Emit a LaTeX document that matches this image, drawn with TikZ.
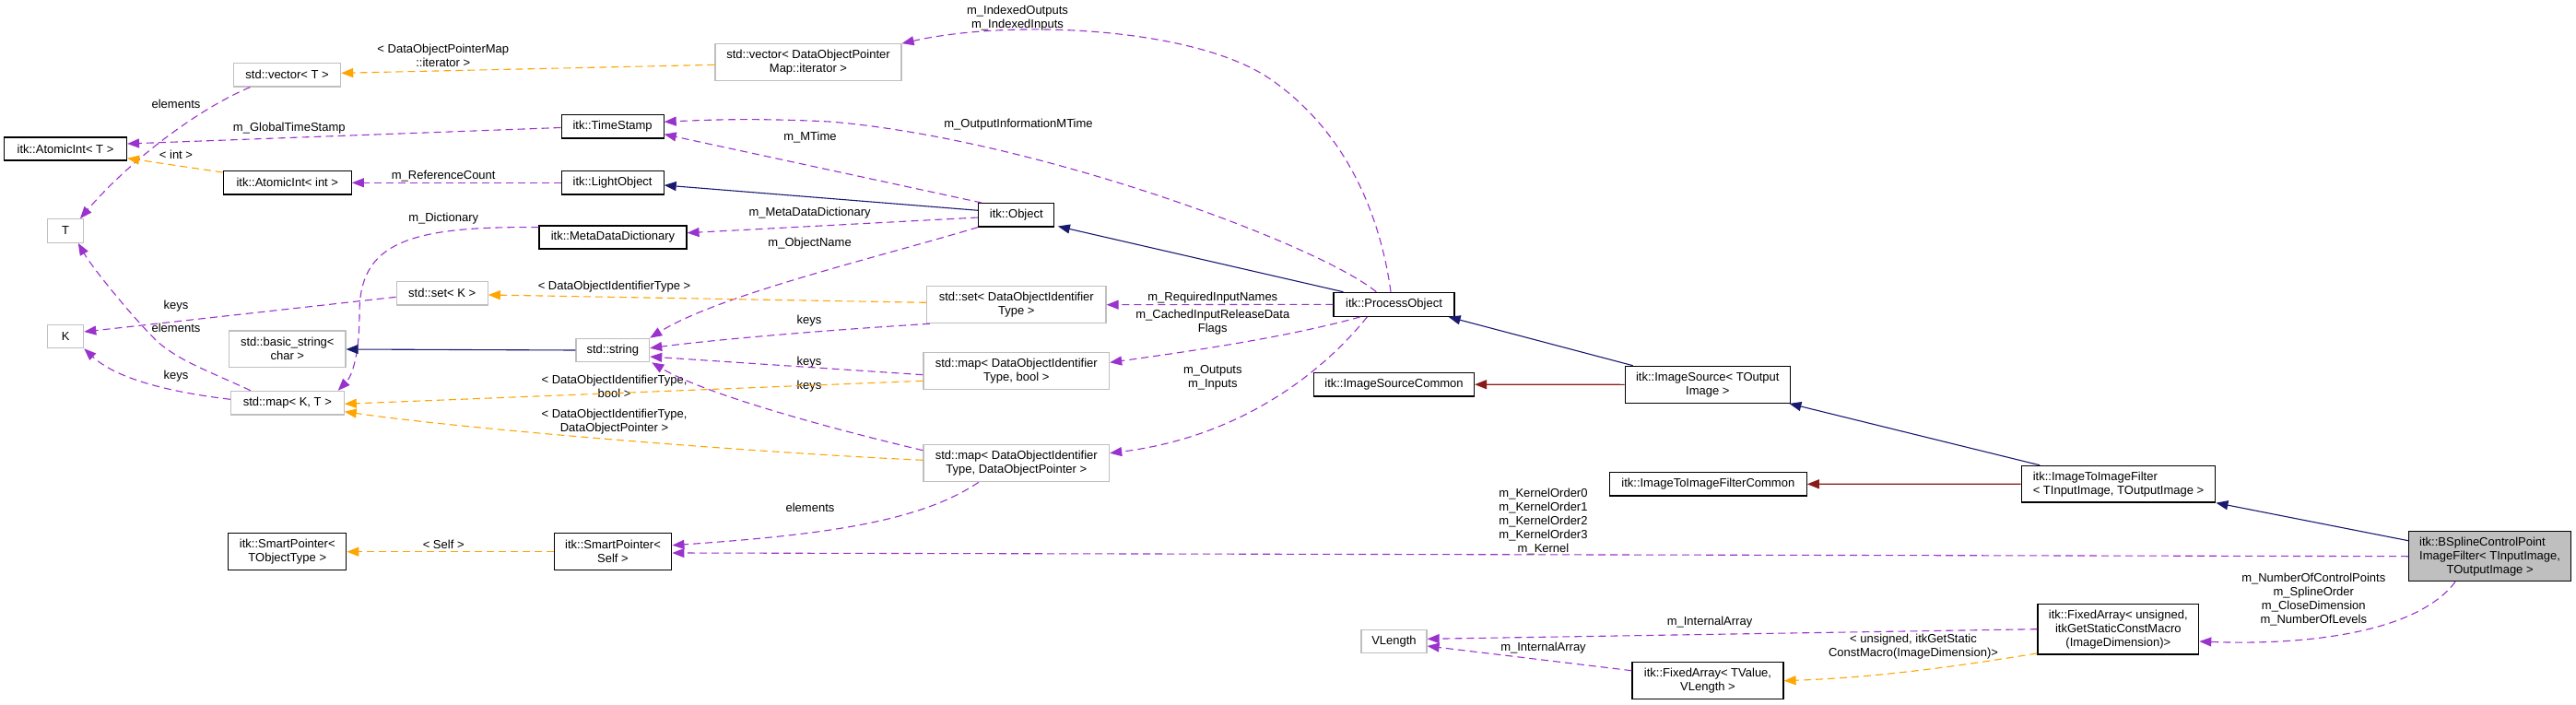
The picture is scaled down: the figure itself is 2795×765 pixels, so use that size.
\documentclass[tikz,border=0pt]{standalone}
\usepackage{fontspec}
\setmainfont{Liberation Sans}
\usetikzlibrary{arrows.meta,calc}
\definecolor{purp}{HTML}{9A32CD}
\definecolor{orng}{HTML}{FFA500}
\definecolor{navy}{HTML}{191970}
\definecolor{fire}{HTML}{8B1A1A}
\definecolor{gbord}{HTML}{BFBFBF}
\begin{document}
\begin{tikzpicture}[x=1pt,y=-1pt,font=\fontsize{13}{15}\selectfont,
  cls/.style={draw=black,line width=1.2pt,fill=white,inner sep=0pt,align=center},
  ucls/.style={cls,draw=gbord},
  use/.style={draw=purp,line width=1.1pt,dash pattern=on 8pt off 5pt,-{Triangle[length=13pt,width=10pt]}},
  tpl/.style={use,draw=orng},
  inh/.style={draw=navy,line width=1.1pt,-{Triangle[length=13pt,width=10pt]}},
  inr/.style={inh,draw=fire},
  lbl/.style={inner sep=0pt,align=center}]
\fill[white] (0,0) rectangle (2795,765);
\useasboundingbox (0,0) rectangle (2795,765);

% nodes
\node[ucls,minimum width=116pt,minimum height=25.7pt] (vecT) at (311.6,81.2) {std::vector< T >};
\node[ucls,minimum width=202pt,minimum height=40pt] (vecDOP) at (877,67.7) {std::vector< DataObjectPointer\\Map::iterator >};
\node[cls,minimum width=133pt,minimum height=25pt] (atomT) at (71,161.5) {itk::AtomicInt< T >};
\node[cls,minimum width=111pt,minimum height=25.7pt] (ts) at (664.6,137.2) {itk::TimeStamp};
\node[cls,minimum width=139pt,minimum height=25.3pt] (atomInt) at (311.8,198.3) {itk::AtomicInt< int >};
\node[cls,minimum width=111pt,minimum height=25.3pt] (lo) at (664.6,198.3) {itk::LightObject};
\node[cls,minimum width=82pt,minimum height=25.3pt] (obj) at (1102.8,233.3) {itk::Object};
\node[cls,minimum width=160pt,minimum height=25pt] (mdd) at (665,257.5) {itk::MetaDataDictionary};
\node[ucls,minimum width=39pt,minimum height=25.6pt] (T) at (71.2,250.5) {T};
\node[ucls,minimum width=99pt,minimum height=25.3pt] (setK) at (479.7,318.3) {std::set< K >};
\node[ucls,minimum width=194.5pt,minimum height=40pt] (setD) at (1102.8,330.7) {std::set< DataObjectIdentifier\\Type >};
\node[cls,minimum width=131pt,minimum height=26pt] (po) at (1512.5,330.3) {itk::ProcessObject};
\node[ucls,minimum width=39pt,minimum height=25.4pt] (K) at (71.2,365) {K};
\node[ucls,minimum width=126.4pt,minimum height=39.3pt] (bstr) at (311.8,378.7) {std::basic\_string<\\char >};
\node[ucls,minimum width=79.6pt,minimum height=25.4pt] (str) at (664.8,380) {std::string};
\node[ucls,minimum width=201.6pt,minimum height=40pt] (mapB) at (1102.8,402.7) {std::map< DataObjectIdentifier\\Type, bool >};
\node[ucls,minimum width=122.8pt,minimum height=25.7pt] (mapKT) at (311.8,437.2) {std::map< K, T >};
\node[cls,minimum width=174pt,minimum height=25.7pt] (isc) at (1512.5,417.2) {itk::ImageSourceCommon};
\node[cls,minimum width=179pt,minimum height=40pt] (is) at (1852.8,417.3) {itk::ImageSource< TOutput\\Image >};
\node[ucls,minimum width=201.6pt,minimum height=40pt] (mapD) at (1102.8,502.7) {std::map< DataObjectIdentifier\\Type, DataObjectPointer >};
\node[cls,minimum width=213.8pt,minimum height=25.3pt] (itifc) at (1853.3,525.3) {itk::ImageToImageFilterCommon};
\node[cls,align=left,minimum width=210.6pt,minimum height=39.7pt] (itif) at (2298.5,525.2) {itk::ImageToImageFilter\\< TInputImage, TOutputImage >};
\node[cls,minimum width=128pt,minimum height=40pt] (spT) at (311.8,598.7) {itk::SmartPointer<\\TObjectType >};
\node[cls,minimum width=127.7pt,minimum height=40pt] (spS) at (665,598.7) {itk::SmartPointer<\\Self >};
\node[cls,fill=gbord,minimum width=176pt,minimum height=54pt] (bsp) at (2701.6,603.7) {\begin{tabular}{@{}l@{}}itk::BSplineControlPoint\\ImageFilter< TInputImage,\end{tabular}\\TOutputImage >};
\node[cls,minimum width=174.8pt,minimum height=54.7pt] (fau) at (2298.3,682.7) {itk::FixedArray< unsigned,\\itkGetStaticConstMacro\\(ImageDimension)>};
\node[ucls,minimum width=71pt,minimum height=25.4pt] (vl) at (1512.5,696) {VLength};
\node[cls,minimum width=164pt,minimum height=40pt] (fat) at (1853,738.7) {itk::FixedArray< TValue,\\VLength >};

% labels
\node[lbl] (l1) at (480.8,60) {< DataObjectPointerMap\\::iterator >};
\node[lbl] (l2) at (191,112.7) {elements};
\node[lbl] (l3) at (313.8,139.3) {m\_GlobalTimeStamp};
\node[lbl] (l4) at (191,167.7) {< int >};
\node[lbl] (l5) at (481.2,191) {m\_ReferenceCount};
\node[lbl] (l6) at (481.2,236.7) {m\_Dictionary};
\node[lbl] (l7) at (666.5,311) {< DataObjectIdentifierType >};
\node[lbl] (l8) at (191,332.3) {keys};
\node[lbl] (l9) at (191,355.7) {elements};
\node[lbl] (l10) at (191,407.7) {keys};
\node[lbl] (l11) at (666.5,419.2) {< DataObjectIdentifierType,\\bool >};
\node[lbl] (l12) at (666.5,457.7) {< DataObjectIdentifierType,\\DataObjectPointer >};
\node[lbl] (l13) at (481.2,591) {< Self >};
\node[lbl] (l14) at (1104,19.2) {m\_IndexedOutputs\\m\_IndexedInputs};
\node[lbl] (l15) at (1105,134.7) {m\_OutputInformationMTime};
\node[lbl] (l16) at (879,148.7) {m\_MTime};
\node[lbl] (l17) at (878.6,231.3) {m\_MetaDataDictionary};
\node[lbl] (l18) at (878.6,264.3) {m\_ObjectName};
\node[lbl] (l19) at (878,347.7) {keys};
\node[lbl] (l20) at (878,392.7) {keys};
\node[lbl] (l21) at (878,419.3) {keys};
\node[lbl] (l22) at (879,550.7) {elements};
\node[lbl] (l23) at (1315.8,322.7) {m\_RequiredInputNames};
\node[lbl] (l24) at (1315.8,349.7) {m\_CachedInputReleaseData\\Flags};
\node[lbl] (l25) at (1315.8,409.7) {m\_Outputs\\m\_Inputs};
\node[lbl] (l26) at (1674.5,566) {m\_KernelOrder0\\m\_KernelOrder1\\m\_KernelOrder2\\m\_KernelOrder3\\m\_Kernel};
\node[lbl] (l27) at (1855,675.3) {m\_InternalArray};
\node[lbl] (l28) at (1674.5,702.7) {m\_InternalArray};
\node[lbl] (l29) at (2076,701.3) {< unsigned, itkGetStatic\\ConstMacro(ImageDimension)>};
\node[lbl] (l30) at (2510.3,650.7) {m\_NumberOfControlPoints\\m\_SplineOrder\\m\_CloseDimension\\m\_NumberOfLevels};

% edges
\draw[tpl] ($(vecDOP.west)+(0,2.6)$) -- ($(vecT.east)+(0,-1.9)$);
\draw[use] ($(vecT.south west)+(18.4,0)$) .. controls (215,118) and (140,175) .. ($(T.north)+(15.8,0)$);
\draw[use] ($(ts.west)+(0,1.3)$) -- ($(atomT.east)+(0,-5.5)$);
\draw[tpl] ($(atomInt.north west)+(0,2)$) -- ($(atomT.east)+(0,10.2)$);
\draw[use] (lo.west) -- (atomInt.east);
\draw[inh] ($(obj.west)+(0,-5)$) -- ($(lo.east)+(0,2.7)$);
\draw[use] ($(obj.north west)+(4,0)$) -- ($(ts.east)+(0,8.5)$);
\draw[use] ($(po.north)+(-19.2,0)$) .. controls (1430,265) and (1120,150) .. (900,132) .. controls (820,128) and (770,130) .. ($(ts.east)+(0,-5)$);
\draw[use] ($(po.north)+(-3.5,0)$) .. controls (1500,250) and (1470,150) .. (1380,87) .. controls (1300,30) and (1100,20) .. (vecDOP.north east);
\draw[use] ($(obj.west)+(0,2.7)$) -- ($(mdd.east)+(0,-4.8)$);
\draw[use] (obj.south west) .. controls (950,280) and (780,320) .. (str.north east);
\draw[inh] ($(po.north west)+(11,0)$) -- ($(obj.south east)+(3.5,-1)$);
\draw[use] ($(mdd.west)+(0,-10.8)$) .. controls (440,245) and (390,265) .. (390,340) .. controls (390,385) and (382,408) .. ($(mapKT.north east)+(-7,0)$);
\draw[use] ($(setK.west)+(0,4)$) -- ($(K.east)+(0,-5)$);
\draw[tpl] ($(setD.west)+(0,-2.4)$) -- ($(setK.east)+(0,1.7)$);
\draw[use] ($(setD.south west)+(4,0)$) .. controls (900,358) and (780,368) .. ($(str.east)+(0,-2.3)$);
\draw[use] (po.west) -- (setD.east);
\draw[inh] (str.west) -- ($(bstr.east)+(0,0.3)$);
\draw[use] ($(mapKT.west)+(0,-3.9)$) .. controls (180,425) and (125,410) .. (K.south east);
\draw[use] ($(mapKT.north west)+(22,0)$) .. controls (225,402) and (195,392) .. (170,370) .. controls (140,340) and (100,290) .. ($(T.south)+(13.6,0)$);
\draw[tpl] ($(mapB.west)+(0,10.6)$) -- ($(mapKT.east)+(0,1.1)$);
\draw[tpl] ($(mapD.west)+(0,-3.4)$) .. controls (800,490) and (500,465) .. ($(mapKT.east)+(0,9.5)$);
\draw[use] ($(mapB.west)+(0,4)$) -- ($(str.east)+(0,7)$);
\draw[use] ($(mapD.west)+(0,-14)$) .. controls (880,460) and (760,425) .. ($(str.south east)+(2,0)$);
\draw[use] ($(po.south west)+(29.5,0)$) .. controls (1400,365) and (1300,380) .. ($(mapB.east)+(0,-9.4)$);
\draw[use] ($(po.south west)+(37,0)$) .. controls (1430,410) and (1340,475) .. ($(mapD.east)+(0,-11)$);
\draw[use] ($(mapD.south)+(-41,0)$) .. controls (1000,565) and (900,580) .. ($(spS.east)+(0,-7)$);
\draw[tpl] (spS.west) -- (spT.east);
\draw[use] (bsp.west) -- ($(spS.east)+(0,1.3)$);
\draw[inh] ($(is.north west)+(9,0)$) -- ($(po.south east)+(-7,0)$);
\draw[inr] (is.west) -- (isc.east);
\draw[inh] ($(itif.north west)+(20.5,0)$) -- ($(is.south east)+(-1.5,0)$);
\draw[inr] (itif.west) -- (itifc.east);
\draw[inh] ($(bsp.west)+(0,-17)$) -- (itif.south east);
\draw[use] ($(bsp.south)+(-37.6,0)$) .. controls (2620,690) and (2490,700) .. ($(fau.east)+(0,13.3)$);
\draw[use] (fau.west) -- ($(vl.east)+(0,-2.7)$);
\draw[use] ($(fat.west)+(0,-11)$) -- ($(vl.east)+(0,5)$);
\draw[tpl] ($(fau.south west)+(0,-1.7)$) .. controls (2130,722) and (2040,735) .. (fat.east);
\end{tikzpicture}
\end{document}
